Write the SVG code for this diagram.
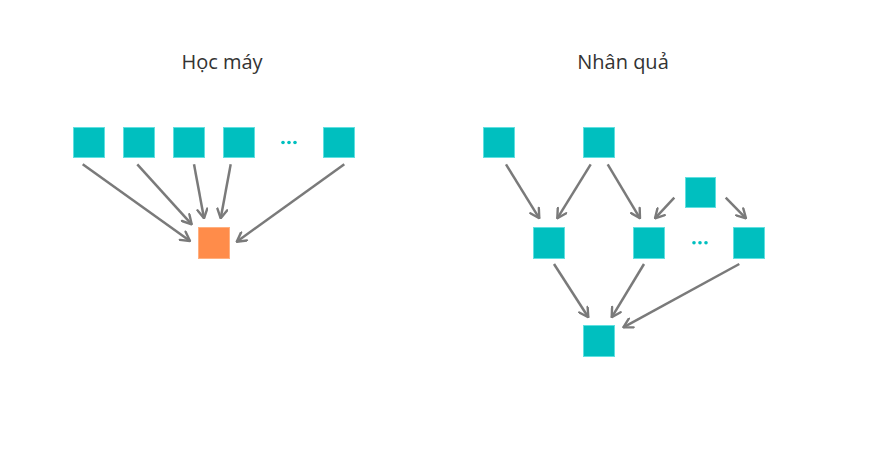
<svg xmlns="http://www.w3.org/2000/svg" width="879" height="453" viewBox="0 0 879 453">
<defs>
<marker id="arr" viewBox="0 0 12 12" refX="11" refY="6" markerWidth="12" markerHeight="12" markerUnits="userSpaceOnUse" orient="auto">
<path d="M2,1 L11,6 L2,11" fill="none" stroke="#7a7a7a" stroke-width="2.4" stroke-linecap="round" stroke-linejoin="round"/>
</marker>
<style>
.t{font-family:"Open Sans","Noto Sans","DejaVu Sans",sans-serif;font-size:20px;fill:#333;text-anchor:middle}
.n rect{fill:#00BFBF;stroke:#5fe0e0;stroke-width:1}
.o rect{fill:#FF8C4A;stroke:#ffb080;stroke-width:1}
.e line{stroke:#7a7a7a;stroke-width:2.5;marker-end:url(#arr)}
.d circle{fill:#00BFBF}
</style>
</defs>
<rect width="879" height="453" fill="#fff"/>
<text class="t" x="222" y="69">Học máy</text>
<text class="t" x="623" y="69">Nhân quả</text>
<g id="ml1" class="n"><rect x="73.5" y="127.5" width="31" height="30"/></g>
<g id="ml2" class="n"><rect x="123.5" y="127.5" width="31" height="30"/></g>
<g id="ml3" class="n"><rect x="173.5" y="127.5" width="31" height="30"/></g>
<g id="ml4" class="n"><rect x="223.5" y="127.5" width="31" height="30"/></g>
<g id="mldots" class="d"><circle cx="283" cy="142.5" r="1.8"/><circle cx="289" cy="142.5" r="1.8"/><circle cx="295" cy="142.5" r="1.8"/></g>
<g id="ml5" class="n"><rect x="323.5" y="127.5" width="31" height="30"/></g>
<g id="mlout" class="o"><rect x="198.5" y="227.5" width="31" height="31"/></g>
<g id="cA" class="n"><rect x="483.5" y="127.5" width="31" height="30"/></g>
<g id="cB" class="n"><rect x="583.5" y="127.5" width="31" height="30"/></g>
<g id="cC" class="n"><rect x="685.5" y="177.5" width="30" height="30"/></g>
<g id="cD" class="n"><rect x="533.5" y="227.5" width="31" height="31"/></g>
<g id="cE" class="n"><rect x="633.5" y="227.5" width="31" height="31"/></g>
<g id="cdots" class="d"><circle cx="694" cy="242.7" r="1.8"/><circle cx="700" cy="242.7" r="1.8"/><circle cx="706" cy="242.7" r="1.8"/></g>
<g id="cF" class="n"><rect x="733.5" y="227.5" width="31" height="31"/></g>
<g id="cG" class="n"><rect x="583.5" y="325.5" width="31" height="31"/></g>
<g id="edges" class="e">
<line x1="82.7" y1="164.3" x2="190" y2="241"/>
<line x1="137.3" y1="164.3" x2="191.7" y2="224.3"/>
<line x1="194" y1="164.3" x2="204" y2="218.3"/>
<line x1="230.7" y1="164.3" x2="220.7" y2="218.3"/>
<line x1="344.3" y1="164.3" x2="236.7" y2="241.7"/>
<line x1="506" y1="164.3" x2="539.3" y2="218.3"/>
<line x1="590.7" y1="164.3" x2="557.3" y2="218.3"/>
<line x1="607.7" y1="164.3" x2="640" y2="218.3"/>
<line x1="674.3" y1="197.7" x2="655" y2="218.3"/>
<line x1="725.7" y1="197.7" x2="746" y2="218.3"/>
<line x1="554" y1="264" x2="588.3" y2="317.3"/>
<line x1="644" y1="264" x2="611.7" y2="317.3"/>
<line x1="739.3" y1="264" x2="623.3" y2="327.3"/>
</g>
</svg>
